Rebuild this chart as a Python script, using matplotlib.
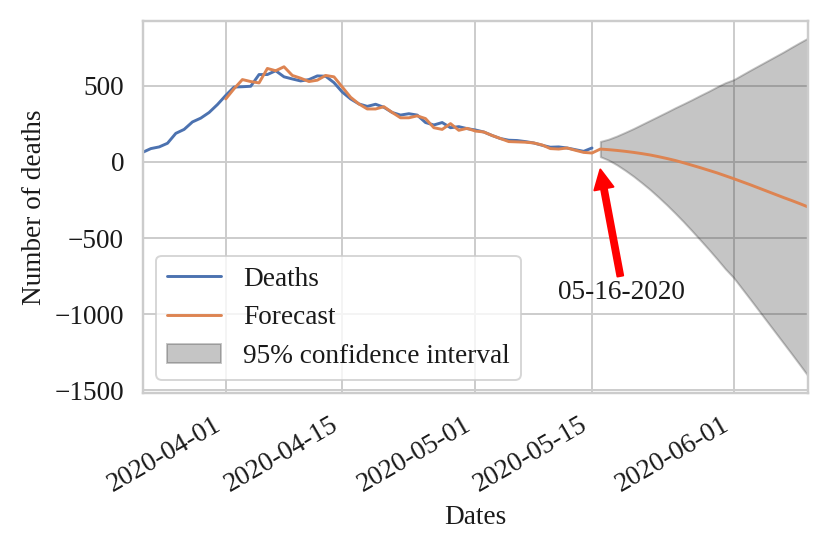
import numpy as np
import pandas as pd
import matplotlib
matplotlib.use("Agg")
import matplotlib.pyplot as plt
import matplotlib.dates as mdates
import seaborn as sns

# daily deaths, 2020-03-22 .. 2020-05-15
deaths = [62, 87, 98, 122, 187, 213, 262, 287, 324, 376,
          436, 491, 493, 496, 573, 573, 598, 558, 544, 531,
          540, 564, 562, 520, 458, 413, 380, 364, 378, 358,
          324, 307, 316, 307, 258, 242, 258, 224, 231, 218,
          209, 196, 173, 153, 142, 140, 133, 124, 109, 96,
          98, 91, 80, 69, 91]

# model fit (2020-04-01 .. 2020-05-15) followed by forecast (2020-05-16 .. 2020-06-10)
forecast = [413, 480, 540, 527, 518, 613, 598, 624, 567, 549,
            527, 536, 567, 558, 491, 424, 380, 347, 347, 362,
            324, 289, 289, 302, 284, 224, 213, 251, 207, 220,
            202, 196, 173, 153, 133, 131, 129, 124, 111, 87,
            84, 91, 76, 62, 58,
            84, 80, 75, 69, 62, 54, 45, 34, 22, 9,
            -6, -22, -38, -55, -72, -91, -110, -130, -150, -171,
            -192, -213, -234, -254, -275, -297]

# 95% confidence interval for 2020-05-16 .. 2020-06-10
ci_upper = [134, 149, 170, 194, 219, 246, 273, 300, 327, 355,
            381, 408, 436, 463, 492, 519, 539, 570, 601, 631,
            661, 691, 721, 753, 784, 814]
ci_lower = [34, 11, -20, -56, -95, -138, -183, -232, -283, -337,
            -393, -452, -512, -573, -636, -701, -759, -830, -901, -973,
            -1045, -1117, -1189, -1261, -1334, -1408]

deaths_dates = pd.date_range("2020-03-22", periods=len(deaths), freq="D")
forecast_dates = pd.date_range("2020-04-01", periods=len(forecast), freq="D")
ci_dates = pd.date_range("2020-05-16", periods=len(ci_upper), freq="D")

sns.set_theme(style="whitegrid")
plt.rcParams["font.family"] = ["Liberation Serif", "DejaVu Serif"]
plt.rcParams["font.size"] = 14
plt.rcParams["axes.labelsize"] = 14
plt.rcParams["xtick.labelsize"] = 14
plt.rcParams["ytick.labelsize"] = 14
plt.rcParams["legend.fontsize"] = 14
plt.rcParams["text.color"] = "0.1"
plt.rcParams["axes.labelcolor"] = "0.1"
plt.rcParams["xtick.color"] = "0.1"
plt.rcParams["ytick.color"] = "0.1"

fig = plt.figure(figsize=(830 / 140, 554 / 140), dpi=140)
ax = fig.add_axes([0.1717, 0.290, 0.8023, 0.6723])

ax.plot(deaths_dates, deaths, label="Deaths")
ax.plot(forecast_dates, forecast, label="Forecast")
ax.fill_between(ci_dates, ci_lower, ci_upper, color="k", alpha=0.25,
                label="95% confidence interval")

ax.annotate("05-16-2020", xy=(pd.Timestamp("2020-05-16"), -50),
            xytext=(pd.Timestamp("2020-05-18 12:00"), -860),
            ha="center", va="center",
            arrowprops=dict(facecolor="red", edgecolor="red", shrink=0,
                            width=3, headwidth=10, headlength=10))

ax.set_xlim(deaths_dates[0], forecast_dates[-1])
ax.set_xticks(pd.to_datetime(["2020-04-01", "2020-04-15", "2020-05-01",
                              "2020-05-15", "2020-06-01"]))
ax.xaxis.set_major_formatter(mdates.DateFormatter("%Y-%m-%d"))
plt.setp(ax.get_xticklabels(), rotation=30, ha="right")

ax.set_xlabel("Dates")
ax.set_ylabel("Number of deaths")
ax.legend(loc="lower left")

fig.savefig("out.png", dpi=140)
